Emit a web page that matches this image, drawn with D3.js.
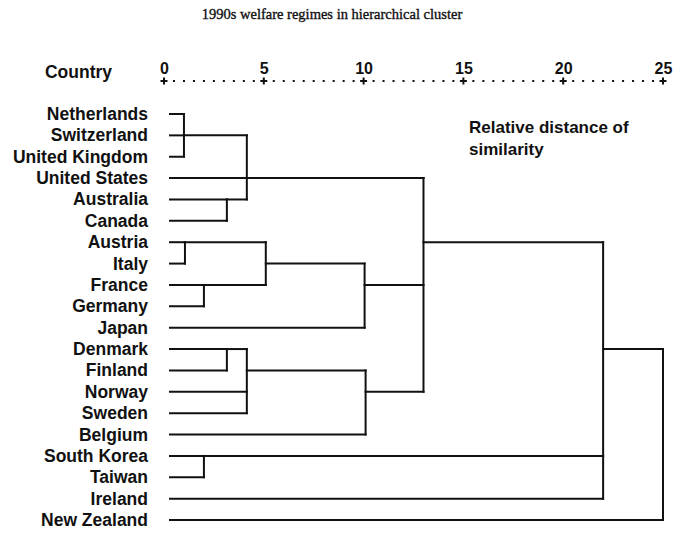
<!DOCTYPE html>
<html>
<head>
<meta charset="utf-8">
<script src="https://cdn.jsdelivr.net/npm/d3@7"></script>
<style>
  html, body { margin: 0; padding: 0; background: #fff; }
  svg { display: block; }
</style>
</head>
<body>
<div id="chart"></div>
<script>
// Leaves, top to bottom
const countries = [
  "Netherlands", "Switzerland", "United Kingdom", "United States", "Australia", "Canada",
  "Austria", "Italy", "France", "Germany", "Japan",
  "Denmark", "Finland", "Norway", "Sweden", "Belgium",
  "South Korea", "Taiwan", "Ireland", "New Zealand"
];

// Merges: rescaled distance (0-25), joined branches, and the row the joined branch continues on
const merges = [
  { id: "nl-ch-uk", height: 1.0, children: ["Netherlands", "Switzerland", "United Kingdom"], carry: "Switzerland" },
  { id: "au-ca", height: 3.15, children: ["Australia", "Canada"], carry: "Australia" },
  { id: "anglo", height: 4.15, children: ["nl-ch-uk", "au-ca"], carry: "United States" },
  { id: "at-it", height: 1.05, children: ["Austria", "Italy"], carry: "Austria" },
  { id: "fr-de", height: 2.0, children: ["France", "Germany"], carry: "France" },
  { id: "continental", height: 5.1, children: ["at-it", "fr-de"], carry: "Italy" },
  { id: "cont-jp", height: 10.05, children: ["continental", "Japan"], carry: "France" },
  { id: "dk-fi", height: 3.15, children: ["Denmark", "Finland"], carry: "Denmark" },
  { id: "nordic", height: 4.15, children: ["dk-fi", "Norway", "Sweden"], carry: "Finland" },
  { id: "nordic-be", height: 10.1, children: ["nordic", "Belgium"], carry: "Norway" },
  { id: "west", height: 13.0, children: ["United States", "anglo", "cont-jp", "nordic-be"], carry: "Austria" },
  { id: "kr-tw", height: 2.0, children: ["South Korea", "Taiwan"], carry: "South Korea" },
  { id: "all-but-nz", height: 22.0, children: ["west", "kr-tw", "Ireland"], carry: "Denmark" },
  { id: "root", height: 25.0, children: ["all-but-nz", "New Zealand"], carry: null }
];

const axisTicks = [0, 5, 10, 15, 20, 25];

const title = "1990s welfare regimes in hierarchical cluster";
const noteLines = ["Relative distance of", "similarity"];

// ==============================

const width = 673, height = 533;
const ink = "#111";
const sans = "Liberation Sans, Arial, Helvetica, sans-serif";

const svg = d3.select("#chart").append("svg")
  .attr("width", width)
  .attr("height", height);

const x = d3.scaleLinear().domain([0, 25]).range([164, 663]);
const y = d3.scalePoint().domain(countries).range([114, 520]);

const byId = new Map(merges.map(m => [m.id, m]));
const leafStart = x(0) + 6;

// Titel
svg.append("text")
  .attr("x", 332)
  .attr("y", 19)
  .attr("text-anchor", "middle")
  .attr("font-family", "Liberation Serif, Times New Roman, serif")
  .attr("font-size", "14.5px")
  .attr("fill", ink)
  .attr("stroke", ink)
  .attr("stroke-width", 0.35)
  .text(title);

// Kopfzeile
svg.append("text")
  .attr("x", 112)
  .attr("y", 78)
  .attr("text-anchor", "end")
  .attr("font-family", sans)
  .attr("font-weight", "bold")
  .attr("font-size", "17.5px")
  .attr("fill", ink)
  .text("Country");

// Achse
const axisG = svg.append("g")
  .attr("transform", "translate(0,81)")
  .call(d3.axisTop(x).tickValues(axisTicks).tickSize(0).tickPadding(7));

axisG.select(".domain").remove();
axisG.selectAll("text")
  .attr("font-family", sans)
  .attr("font-weight", "bold")
  .attr("font-size", "16px")
  .attr("fill", ink);

// kleine Punkte zwischen den Hauptstrichen
axisG.selectAll("rect.minor")
  .data(d3.range(0.5, 25, 0.5).filter(v => v % 5 !== 0))
  .join("rect")
  .attr("class", "minor")
  .attr("x", d => x(d) - 1)
  .attr("y", -1)
  .attr("width", 2)
  .attr("height", 2)
  .attr("fill", ink);

// Pluszeichen
axisG.selectAll("path.plus")
  .data(axisTicks)
  .join("path")
  .attr("class", "plus")
  .attr("d", d => `M${x(d) - 3.5},0H${x(d) + 3.5}M${x(d)},-3.5V3.5`)
  .attr("stroke", ink)
  .attr("stroke-width", 2)
  .attr("fill", "none");

// Ländernamen
svg.append("g")
  .selectAll("text")
  .data(countries)
  .join("text")
  .attr("x", 148)
  .attr("y", d => y(d) + 6)
  .attr("text-anchor", "end")
  .attr("font-family", sans)
  .attr("font-weight", "bold")
  .attr("font-size", "17.5px")
  .attr("fill", ink)
  .text(d => d);

// Hinweis
svg.append("text")
  .attr("font-family", sans)
  .attr("font-weight", "bold")
  .attr("font-size", "17px")
  .attr("fill", ink)
  .selectAll("tspan")
  .data(noteLines)
  .join("tspan")
  .attr("x", 469)
  .attr("y", (d, i) => 133 + i * 22)
  .text(d => d);

// Dendrogramm
function nodeX(id) {
  return byId.has(id) ? x(byId.get(id).height) : leafStart;
}
function nodeY(id) {
  return byId.has(id) ? y(byId.get(id).carry) : y(id);
}

const segments = [];
merges.forEach(m => {
  const xm = x(m.height);
  const ys = m.children.map(nodeY);
  m.children.forEach(c => {
    segments.push(`M${nodeX(c)},${nodeY(c)}H${xm}`);
  });
  segments.push(`M${xm},${d3.min(ys)}V${d3.max(ys)}`);
});

svg.append("g")
  .selectAll("path")
  .data(segments)
  .join("path")
  .attr("d", d => d)
  .attr("fill", "none")
  .attr("stroke", ink)
  .attr("stroke-width", 2)
  .attr("stroke-linecap", "square");
</script>
</body>
</html>
